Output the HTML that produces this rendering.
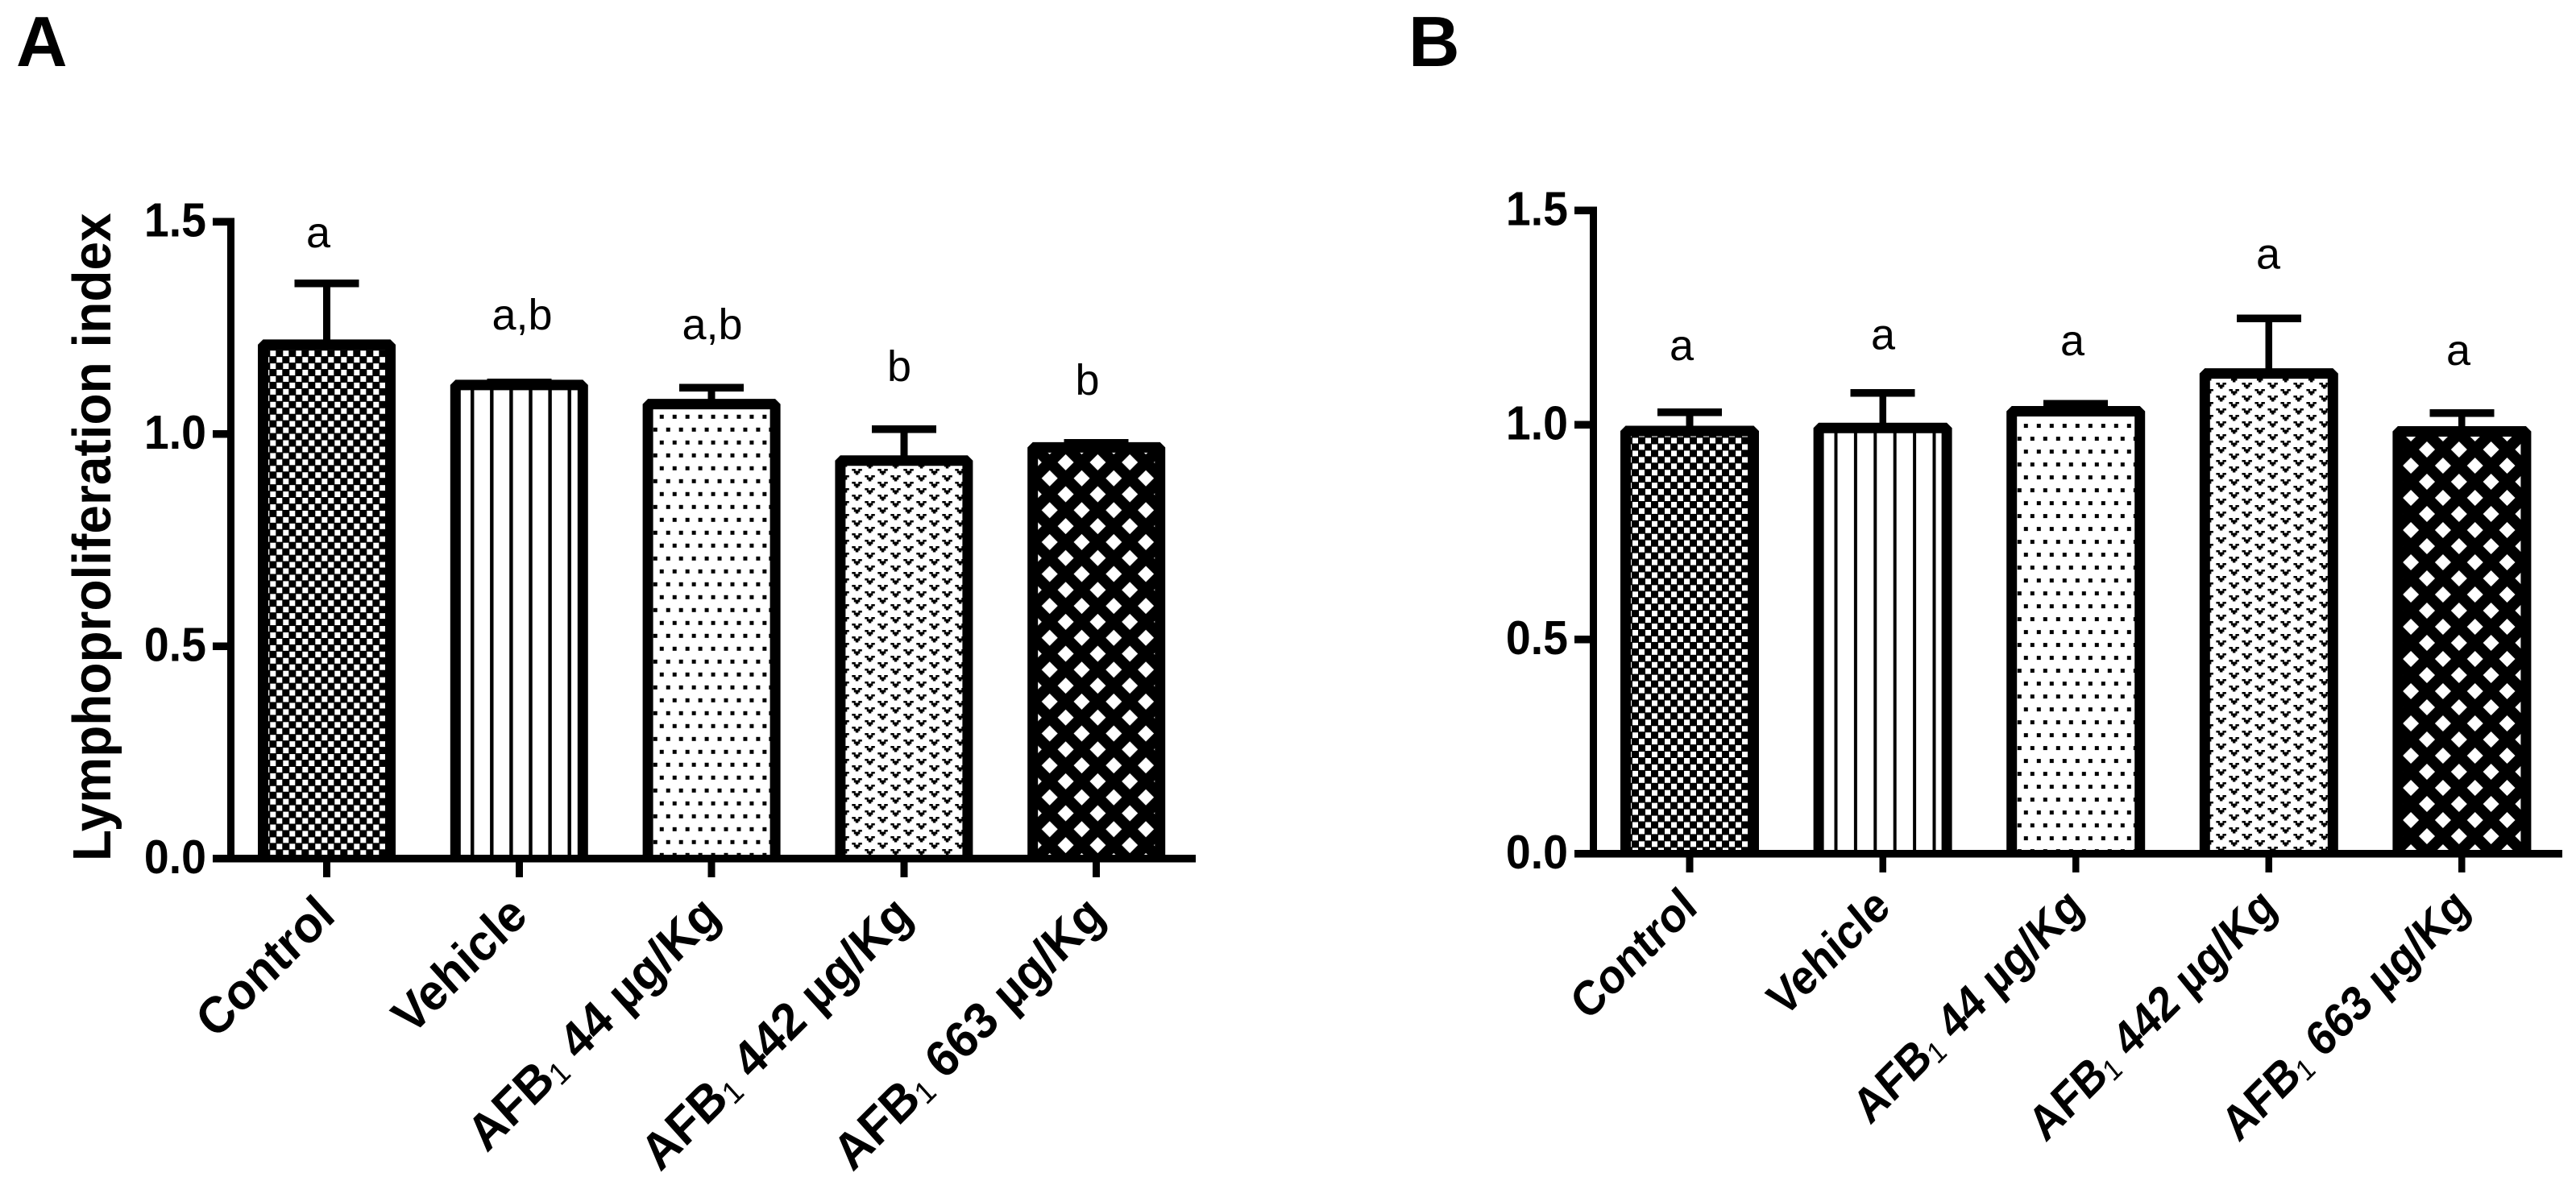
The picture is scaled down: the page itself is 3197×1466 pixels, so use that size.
<!DOCTYPE html>
<html lang="en">
<head>
<meta charset="utf-8">
<title>Lymphoproliferation index bar charts</title>
<style>
html,body{margin:0;padding:0;background:#fff;width:3197px;height:1466px;overflow:hidden}
svg{display:block;font-family:"Liberation Sans",Arial,sans-serif}
.tick-label{font-size:59px;font-weight:700;text-anchor:end}
.cat-label{font-weight:700;text-anchor:end}
.letter{font-size:54px;text-anchor:middle}
.panel-letter{font-size:88px;font-weight:700}
.axis-title{font-size:64px;font-weight:700}
</style>
</head>
<body>
<svg id="figure" xmlns="http://www.w3.org/2000/svg" width="3197" height="1466" viewBox="0 0 3197 1466">
  <defs>
    <pattern id="check-a" patternUnits="userSpaceOnUse" x="335.3" y="626" width="16" height="15.9">
      <rect width="16" height="15.9" fill="#000" shape-rendering="crispEdges"/>
      <rect x="0" y="0" width="7" height="7" fill="#fff" shape-rendering="crispEdges"/>
      <rect x="8" y="8" width="7" height="7" fill="#fff" shape-rendering="crispEdges"/>
    </pattern>
    <pattern id="check-b" patternUnits="userSpaceOnUse" x="2026" y="623" width="16" height="15.9">
      <rect width="16" height="15.9" fill="#000" shape-rendering="crispEdges"/>
      <rect x="0" y="0" width="7" height="7" fill="#fff" shape-rendering="crispEdges"/>
      <rect x="8" y="8" width="7" height="7" fill="#fff" shape-rendering="crispEdges"/>
    </pattern>
    <pattern id="stripe-a" patternUnits="userSpaceOnUse" x="584" y="0" width="24.1" height="20">
      <rect width="24.1" height="20" fill="#fff"/>
      <rect x="0" width="4.2" height="20" fill="#000" shape-rendering="crispEdges"/>
    </pattern>
    <pattern id="stripe-b" patternUnits="userSpaceOnUse" x="2276.5" y="0" width="24.4" height="20">
      <rect width="24.4" height="20" fill="#fff"/>
      <rect x="0" width="4.2" height="20" fill="#000" shape-rendering="crispEdges"/>
    </pattern>
    <pattern id="dots-a" patternUnits="userSpaceOnUse" x="810.8" y="626.8" width="15.95" height="32">
      <rect width="15.95" height="32" fill="#fff"/>
      <rect x="0" y="0" width="5" height="5" fill="#000" shape-rendering="crispEdges"/>
      <rect x="8" y="16" width="5" height="5" fill="#000" shape-rendering="crispEdges"/>
    </pattern>
    <pattern id="dots-b" patternUnits="userSpaceOnUse" x="2511.8" y="526.1" width="16" height="32">
      <rect width="16" height="32" fill="#fff"/>
      <rect x="0" y="0" width="5" height="5" fill="#000" shape-rendering="crispEdges"/>
      <rect x="-8" y="16" width="5" height="5" fill="#000" shape-rendering="crispEdges"/>
      <rect x="8" y="16" width="5" height="5" fill="#000" shape-rendering="crispEdges"/>
    </pattern>
    <g id="vee">
      <rect x="0" y="0" width="4.7" height="2.7"/>
      <rect x="8" y="0" width="4.7" height="2.7"/>
      <rect x="2.7" y="2.7" width="7.3" height="2.6"/>
      <rect x="4.7" y="5.3" width="3.3" height="2"/>
    </g>
    <pattern id="vee-a" patternUnits="userSpaceOnUse" x="1057.3" y="630" width="32" height="16">
      <rect width="32" height="16" fill="#fff"/>
      <use href="#vee" shape-rendering="crispEdges"/>
      <use href="#vee" x="16" y="8" shape-rendering="crispEdges"/>
    </pattern>
    <pattern id="vee-b" patternUnits="userSpaceOnUse" x="2750.4" y="475" width="32" height="16">
      <rect width="32" height="16" fill="#fff"/>
      <use href="#vee" shape-rendering="crispEdges"/>
      <use href="#vee" x="16" y="8" shape-rendering="crispEdges"/>
    </pattern>
    <pattern id="lattice-a" patternUnits="userSpaceOnUse" x="1302.7" y="633.3" width="39.8" height="39.6">
      <rect width="39.8" height="39.6" fill="#000"/>
      <path fill="#fff" d="M0-10L10 0L0 10L-10 0ZM39.8-10L49.8 0L39.8 10L29.8 0ZM0 29.6L10 39.6L0 49.6L-10 39.6ZM39.8 29.6L49.8 39.6L39.8 49.6L29.8 39.6ZM19.9 9.8L29.9 19.8L19.9 29.8L9.9 19.8Z"/>
    </pattern>
    <pattern id="lattice-b" patternUnits="userSpaceOnUse" x="3012" y="558" width="39.8" height="40">
      <rect width="39.8" height="40" fill="#000"/>
      <path fill="#fff" d="M0-10L10 0L0 10L-10 0ZM39.8-10L49.8 0L39.8 10L29.8 0ZM0 30L10 40L0 50L-10 40ZM39.8 30L49.8 40L39.8 50L29.8 40ZM19.9 10L29.9 20L19.9 30L9.9 20Z"/>
    </pattern>
  </defs>

  <rect width="3197" height="1466" fill="#fff"/>

  <text class="panel-letter" x="20" y="82">A</text>
  <text class="panel-letter" x="1748" y="82">B</text>

  <text class="axis-title" transform="translate(137 1069) rotate(-90) scale(1 1.04)">Lymphoproliferation index</text>

  <g id="panel-a"></g>
  <g id="panel-b"></g>

  <g>
    <text class="letter" x="395" y="307">a</text>
    <text class="letter" x="648" y="409">a,b</text>
    <text class="letter" x="884" y="421">a,b</text>
    <text class="letter" x="1116" y="473">b</text>
    <text class="letter" x="1349.5" y="490">b</text>
  </g>
  <g>
    <text class="letter" x="2087" y="447">a</text>
    <text class="letter" x="2337" y="433.5">a</text>
    <text class="letter" x="2572" y="441">a</text>
    <text class="letter" x="2815" y="333.5">a</text>
    <text class="letter" x="3051" y="453">a</text>
  </g>
</svg>

<script>
// Chart data
const categories = ['Control', 'Vehicle', 'AFB₁ 44 µg/Kg', 'AFB₁ 442 µg/Kg', 'AFB₁ 663 µg/Kg'];
const tickValues = [0, 0.5, 1.0, 1.5];
const tickLabels = ['0.0', '0.5', '1.0', '1.5'];
const meansA = [1.21, 1.115, 1.07, 0.937, 0.968];
const errorsA = [0.144, 0.006, 0.039, 0.074, 0.011];
const meansB = [0.985, 0.992, 1.031, 1.119, 0.984];
const errorsB = [0.044, 0.082, 0.017, 0.128, 0.043];
const hatchNames = ['check', 'stripe', 'dots', 'vee', 'lattice'];

const SVG_NS = 'http://www.w3.org/2000/svg';

function make(tag, parent, attrs) {
  const el = document.createElementNS(SVG_NS, tag);
  for (const k in attrs) el.setAttribute(k, attrs[k]);
  parent.appendChild(el);
  return el;
}

function drawPanel(cfg) {
  const root = document.getElementById(cfg.id);
  // axis functions: category index -> px centre, value -> px
  const xScale = i => cfg.x0 + i * cfg.step;
  const yScale = v => cfg.y0 - v * cfg.pxPerUnit;
  const half = cfg.lineW / 2;
  const topY = yScale(tickValues[tickValues.length - 1]);

  // bars with error bars
  cfg.means.forEach((m, i) => {
    const cx = xScale(i);
    const group = make('g', root, {});
    
    

    const errY = yScale(m + cfg.errors[i]);
    const stem = make('rect', group, {
      x: cx - half, y: errY, width: cfg.lineW, height: Math.max(0, yScale(m) - errY),
      fill: '#000', 'shape-rendering': 'crispEdges'
    });
    
    

    const cap = make('rect', group, {
      x: cx - 40, y: errY - 4.75, width: 80, height: 9.5,
      fill: '#000', 'shape-rendering': 'crispEdges'
    });
    
    

    const left = cx - cfg.barW / 2;
    const right = cx + cfg.barW / 2;
    const bar = make('path', group, {
      d: 'M' + left + ' ' + cfg.y0 + 'V' + yScale(m) + 'H' + right + 'V' + cfg.y0,
      fill: 'url(#' + hatchNames[i] + '-' + cfg.key + ')',
      stroke: '#000', 'stroke-width': 13, 'stroke-linejoin': 'bevel'
    });
    
    
  });

  // y axis
  const yAxis = make('rect', root, {
    x: cfg.axisX - half, y: topY - 4.5, width: cfg.lineW, height: cfg.y0 - topY + 9,
    fill: '#000', 'shape-rendering': 'crispEdges'
  });
  
  

  tickValues.forEach((v, i) => {
    const tick = make('rect', root, {
      x: cfg.axisLeft, y: yScale(v) - 4.5, width: cfg.axisX - cfg.axisLeft, height: 9.5,
      fill: '#000', 'shape-rendering': 'crispEdges'
    });
    
    

    const label = make('text', root, {
      class: 'tick-label',
      transform: 'translate(' + (cfg.axisLeft - 8) + ' ' + (yScale(v) + 18.5) + ') scale(0.94 1)'
    });
    
    
    label.textContent = tickLabels[i];
  });

  // x axis
  const xAxis = make('rect', root, {
    x: cfg.axisLeft, y: cfg.y0 - 4.5, width: cfg.axisRight - cfg.axisLeft, height: 9.5,
    fill: '#000', 'shape-rendering': 'crispEdges'
  });
  
  

  categories.forEach((name, i) => {
    const cx = xScale(i);
    const tick = make('rect', root, {
      x: cx - half, y: cfg.y0 + 4.5, width: cfg.lineW, height: 19,
      fill: '#000', 'shape-rendering': 'crispEdges'
    });
    
    

    const label = make('text', root, {
      class: 'cat-label',
      'font-size': cfg.labelSize,
      transform: 'translate(' + (cx + cfg.labelDx) + ' ' + cfg.labelY + ') rotate(-45) skewX(' + cfg.labelSkew + ') scale(' + cfg.labelStretch + ' 1)'
    });
    
    
    const parts = name.split('₁');
    if (parts.length === 2) {
      label.appendChild(document.createTextNode(parts[0]));
      const sub = make('tspan', label, { 'font-size': cfg.labelSize * 0.62, 'font-weight': 400, dy: 6 });
      sub.textContent = '1';
      const rest = make('tspan', label, { dy: -6 });
      rest.textContent = parts[1];
    } else {
      label.textContent = name;
    }
  });
}

drawPanel({
  id: 'panel-a', key: 'a', means: meansA, errors: errorsA,
  x0: 405.5, step: 238.8, y0: 1065.5, pxPerUnit: 527, barW: 158, lineW: 9,
  axisX: 286.5, axisLeft: 264, axisRight: 1484,
  labelSize: 62, labelStretch: 0.97, labelSkew: -3, labelDx: 13, labelY: 1140
});
drawPanel({
  id: 'panel-b', key: 'b', means: meansB, errors: errorsB,
  x0: 2097, step: 239.6, y0: 1059.5, pxPerUnit: 532.5, barW: 159, lineW: 8.6,
  axisX: 1977.5, axisLeft: 1954, axisRight: 3180,
  labelSize: 58, labelStretch: 0.95, labelSkew: -6, labelDx: 12, labelY: 1130
});
</script>
</body>
</html>
